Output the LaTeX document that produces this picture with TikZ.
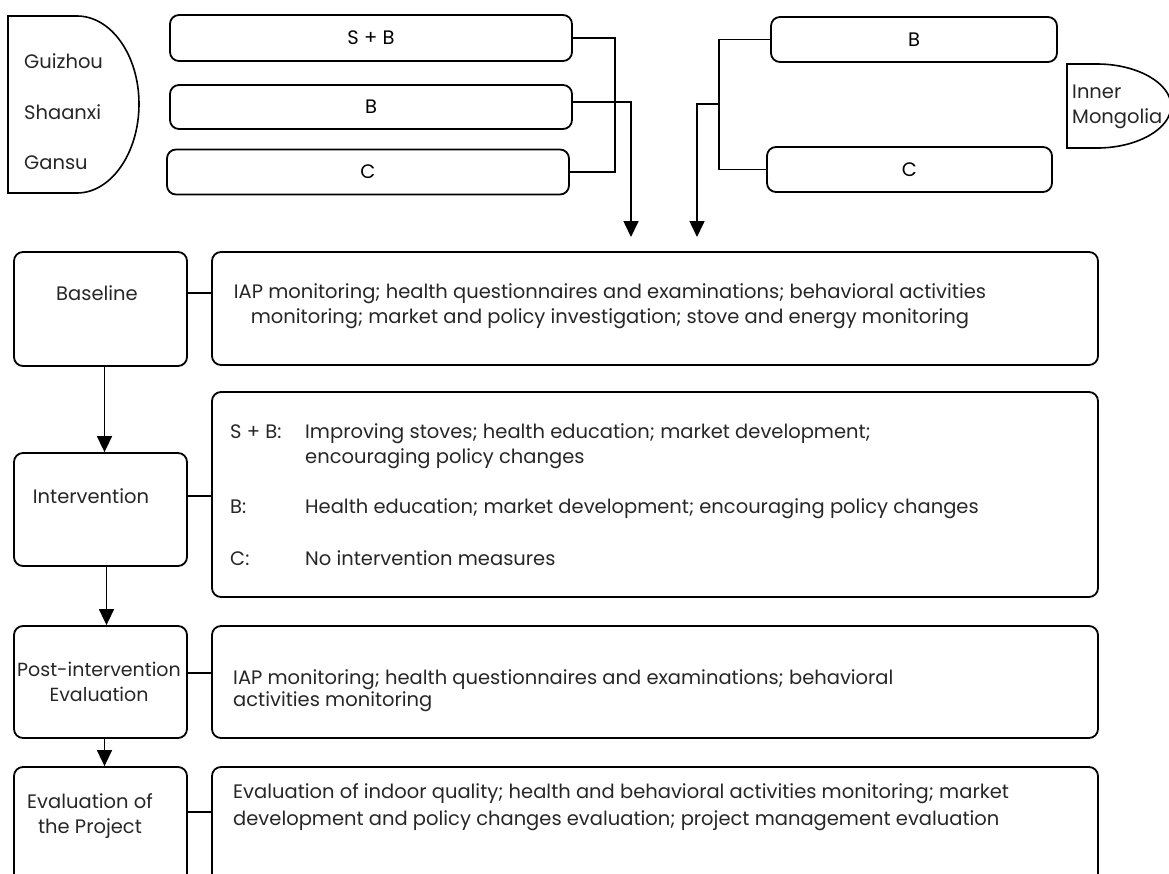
\documentclass[tikz,border=0pt]{standalone}
\usepackage{fontspec}
\setmainfont{Poppins}
\usetikzlibrary{arrows.meta}

\begin{document}
\begin{tikzpicture}[x=1pt,y=-1pt,
    box/.style={draw,rounded corners=9pt,line width=1.8pt,inner sep=0pt,
      font=\fontsize{19.5}{25}\selectfont},
    txt/.style={inner sep=0pt,text=black!85,font=\fontsize{19.5}{25}\selectfont},
    wire/.style={line width=1.6pt},
    arr/.style={line width=1.6pt,-{Triangle[length=16pt,width=15pt]}}]
  \useasboundingbox (0,0) rectangle (1169,873);
  \clip (0,0) rectangle (1169,873);
  % provinces
  \draw[wire] (8,16) -- (77,16) .. controls (111,16) and (139,55) .. (139,104)
    .. controls (139,153) and (111,193) .. (77,193) -- (8,193) -- cycle;
  \node[txt,anchor=west] (gz) at (24,61) {Guizhou};
  \node[txt,anchor=west] (sx) at (24,112) {Shaanxi};
  \node[txt,anchor=west] (gs) at (24,163) {Gansu};
  \draw[wire] (1067,64) -- (1097,64) .. controls (1137,64) and (1171,83) .. (1171,106)
    .. controls (1171,129) and (1137,148) .. (1097,148) -- (1067,148) -- cycle;
  \node[txt,anchor=west,align=left] (im) at (1072,107) {Inner\\Mongolia};
  % groups
  \node[box,minimum width=402pt,minimum height=46pt] (sb1) at (371,38) {S + B};
  \node[box,minimum width=402pt,minimum height=44pt] (b1) at (371,107) {B};
  \node[box,minimum width=402pt,minimum height=45pt] (c1) at (368,172) {C};
  \node[box,minimum width=286pt,minimum height=45pt] (b2) at (914,39.5) {B};
  \node[box,minimum width=285pt,minimum height=45pt] (c2) at (909.5,169.5) {C};
  \coordinate (tipl) at (631,237);
  \coordinate (tipr) at (697,237);
  \coordinate (jr) at (720,104);
  \draw[wire] (sb1.east) -- ++(42,0) |- (c1.east);
  \draw[arr] ([yshift=5pt]b1.east) -| (tipl);
  \draw[wire] (b2.west) -- ++(-51,0) |- (c2.west);
  \draw[arr] (jr) -| (tipr);
  % stages
  \node[box,minimum width=173pt,minimum height=114pt] (base) at (100.5,309) {};
  \node[txt] (baset) at (97,293) {Baseline};
  \node[box,minimum width=886pt,minimum height=113pt] (baseb) at (655,308.5) {};
  \node[txt,align=center] (basebt) at (610,306.5)
    {IAP monitoring; health questionnaires and examinations; behavioral activities\\
     monitoring; market and policy investigation; stove and energy monitoring};
  \node[box,minimum width=173pt,minimum height=113pt] (interv) at (100.5,509.5) {};
  \node[txt] (intervt) at (91,496) {Intervention};
  \node[box,minimum width=886pt,minimum height=205pt] (intervb) at (655,494.5) {};
  \node[txt,anchor=base west] (intervbt) at (230,438)
    {\begin{tabular}[t]{@{}p{75pt}@{}l@{}}
      S + B: & Improving stoves; health education; market development;\\
             & encouraging policy changes\\[25pt]
      B:     & Health education; market development; encouraging policy changes\\[27pt]
      C:     & No intervention measures
    \end{tabular}};
  \node[box,minimum width=173pt,minimum height=112pt] (post) at (100.5,682) {};
  \node[txt,align=center,font=\fontsize{19}{25}\selectfont] (postt) at (99,682)
    {Post-intervention\\Evaluation};
  \node[box,minimum width=886pt,minimum height=112pt] (postb) at (655,682) {};
  \node[txt,anchor=west,align=left] (postbt) at (233,691)
    {IAP monitoring; health questionnaires and examinations; behavioral\\[-3pt]
     activities monitoring};
  \node[box,minimum width=173pt,minimum height=123pt] (evalp) at (100.5,828.5) {};
  \node[txt,align=center] (evalpt) at (90,816) {Evaluation of\\the Project};
  \node[box,minimum width=886pt,minimum height=123pt] (evalb) at (655,828.5) {};
  \node[txt,anchor=west,align=left] (evalbt) at (233,807.5)
    {Evaluation of indoor quality; health and behavioral activities monitoring; market\\[2pt]
     development and policy changes evaluation; project management evaluation};
  % links
  \draw[wire] (baset -| base.east) -- (baset -| baseb.west);
  \draw[wire] (intervt -| interv.east) -- (intervt -| intervb.west);
  \draw[wire] ([yshift=9pt]postt.east -| post.east) -- ([yshift=9pt]postt.east -| postb.west);
  \draw[wire] ([yshift=4pt]evalpt.east -| evalp.east) -- ([yshift=4pt]evalpt.east -| evalb.west);
  \draw[arr] ([xshift=4pt]base.south) -- ([xshift=4pt]interv.north);
  \draw[arr] ([xshift=6pt]interv.south) -- ([xshift=6pt]post.north);
  \draw[arr] ([xshift=4pt]post.south) -- ([xshift=4pt]evalp.north);
\end{tikzpicture}
\end{document}
